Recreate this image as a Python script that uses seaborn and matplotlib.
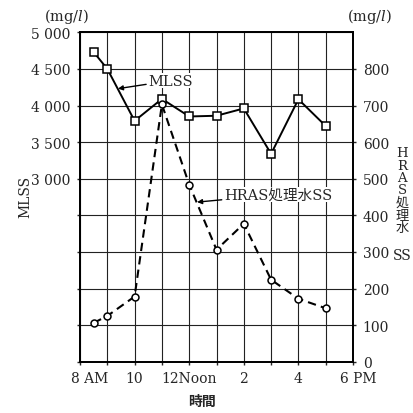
import matplotlib
matplotlib.use("Agg")
import matplotlib.pyplot as plt
import matplotlib.transforms as mtransforms
import seaborn as sns
import pandas as pd

# ---- data ----
hours = [8.5, 9, 10, 11, 12, 13, 14, 15, 16, 17]
mlss = [4730, 4500, 3790, 4090, 3850, 3860, 3960, 3340, 4085, 3720]
hras_ss = [106, 125, 178, 703, 484, 306, 377, 224, 172, 146]

x_tick_pos = [8, 10, 12, 14, 16, 18]
x_tick_labels = ["8 AM", "10", "12Noon", "2", "4", "6 PM"]
left_ticks = [3000, 3500, 4000, 4500, 5000]
left_tick_labels = ["3 000", "3 500", "4 000", "4 500", "5 000"]
right_ticks = [0, 100, 200, 300, 400, 500, 600, 700, 800]
right_tick_labels = ["0", "100", "200", "300", "400", "500", "600", "700", "800"]

sns.set_style("ticks")
plt.rcParams["font.family"] = ["DejaVu Serif", "Noto Sans CJK JP"]
plt.rcParams["font.size"] = 10
plt.rcParams["mathtext.fontset"] = "dejavuserif"

W, H = 413, 414
fig = plt.figure(figsize=(W / 100, H / 100), dpi=100)
ax = fig.add_axes([80 / W, 1 - 362.7 / H, (353 - 80) / W, (362.7 - 33.3) / H])
ax2 = ax.twinx()

df = pd.DataFrame({"hour": hours, "MLSS": mlss, "HRAS": hras_ss})

sns.lineplot(data=df, x="hour", y="MLSS", ax=ax, color="black", lw=1.4,
             marker="s", markersize=5.2, markerfacecolor="white",
             markeredgecolor="black", markeredgewidth=1.1, zorder=5)
sns.lineplot(data=df, x="hour", y="HRAS", ax=ax2, color="black", lw=1.5,
             linestyle=(0, (4, 2.5)),
             marker="o", markersize=5, markerfacecolor="white",
             markeredgecolor="black", markeredgewidth=1.1, zorder=5)

# axes limits
ax.set_xlim(8, 18)
ax.set_ylim(500, 5000)
ax2.set_ylim(0, 900)

# grid
ax.set_xticks(range(8, 19))
ax.set_xticklabels([x_tick_labels[x_tick_pos.index(h)] if h in x_tick_pos else "" for h in range(8, 19)])
yt = list(range(500, 5001, 500))
ax.set_yticks(yt)
ax.set_yticklabels([left_tick_labels[left_ticks.index(v)] if v in left_ticks else "" for v in yt])
ax.grid(True, color="#222222", lw=0.8)
ax.set_axisbelow(True)

ax2.set_yticks(right_ticks)
ax2.set_yticklabels(right_tick_labels)
ax2.grid(False)

for a in (ax, ax2):
    for s in a.spines.values():
        s.set_linewidth(1.3)
        s.set_color("black")
ax.tick_params(axis="both", length=2, width=1, pad=5, labelsize=10)
ax2.tick_params(axis="y", length=2, width=1, pad=5, labelsize=10)
ax.set_xlabel("")
ax.set_ylabel("")
ax2.set_ylabel("")

# shift end labels like the reference
labels = ax.get_xticklabels()
for lab in labels:
    if lab.get_text() == "8 AM":
        lab.set_transform(lab.get_transform() + mtransforms.ScaledTranslation(10 / 100, 0, fig.dpi_scale_trans))
    elif lab.get_text() == "6 PM":
        lab.set_transform(lab.get_transform() + mtransforms.ScaledTranslation(5 / 100, 0, fig.dpi_scale_trans))

# annotations
ax.annotate("MLSS", xy=(9.39, 4230), xytext=(10.5, 4340), ha="left", va="center",
            fontsize=10.5,
            bbox=dict(boxstyle="square,pad=0.05", fc="white", ec="none"),
            arrowprops=dict(arrowstyle="-|>", color="black", lw=1.0,
                            mutation_scale=7, shrinkA=1, shrinkB=0))
ax2.annotate("HRAS処理水SS", xy=(12.29, 436), xytext=(13.27, 457), ha="left", va="center",
             fontsize=10.5,
             bbox=dict(boxstyle="square,pad=0.05", fc="white", ec="none"),
             arrowprops=dict(arrowstyle="-|>", color="black", lw=1.0,
                             mutation_scale=7, shrinkA=1, shrinkB=0))

def ftext(px, py, s, **kw):
    fig.text(px / W, 1 - py / H, s, **kw)

ftext(67, 16, "(mg/$l$)", ha="center", va="center", fontsize=10.5)
ftext(370, 16, "(mg/$l$)", ha="center", va="center", fontsize=10.5)
ftext(25, 197, "MLSS", ha="center", va="center", rotation=90, fontsize=10)
ftext(202, 402, "時間", ha="center", va="center", fontsize=10, weight="bold")

ftext(402, 191, "H\nR\nA\nS\n処\n理\n水", ha="center", va="center",
      fontsize=9.5, linespacing=0.95, multialignment="center")
ftext(402, 256, "SS", ha="center", va="center", fontsize=10)

fig.savefig("out.png", dpi=100)
